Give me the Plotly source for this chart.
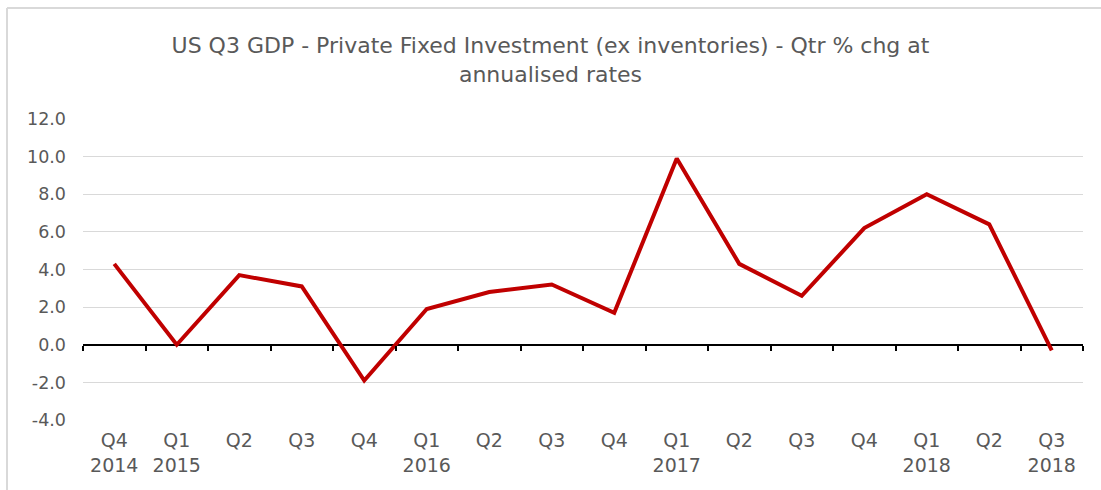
import plotly.graph_objects as go

quarters = ["Q4", "Q1", "Q2", "Q3", "Q4", "Q1", "Q2", "Q3", "Q4", "Q1", "Q2", "Q3", "Q4", "Q1", "Q2", "Q3"]
years = ["2014", "2015", "", "", "", "2016", "", "", "", "2017", "", "", "", "2018", "", "2018"]
values = [4.3, 0.0, 3.7, 3.1, -1.9, 1.9, 2.8, 3.2, 1.7, 9.9, 4.3, 2.6, 6.2, 8.0, 6.4, -0.3]
y_ticks = [-4, -2, 0, 2, 4, 6, 8, 10, 12]
title_text = "US Q3 GDP - Private Fixed Investment (ex inventories) - Qtr % chg at<br>annualised rates"

W, H = 1101, 490
ML, MR, MT, MB = 83, 18, 119, 70
PW, PH = W - ML - MR, H - MT - MB

labels = [q + ("<br>" + y if y else "") for q, y in zip(quarters, years)]
xs = list(range(len(values)))
FONT = "DejaVu Sans"
TXT = "#595959"

fig = go.Figure()
fig.add_trace(go.Scatter(x=xs, y=values, mode="lines",
                         line=dict(color="#C00000", width=4), showlegend=False,
                         hoverinfo="skip"))
# invisible trace on xaxis2 for boundary ticks
fig.add_trace(go.Scatter(x=[-0.5, len(values) - 0.5], y=[0, 0], mode="lines",
                         line=dict(width=0), xaxis="x2", showlegend=False,
                         hoverinfo="skip"))

def px_x(p):
    return (p - ML) / PW

def px_y(p):
    return (H - MB - p) / PH

fig.update_layout(
    width=W, height=H,
    margin=dict(l=ML, r=MR, t=MT, b=MB),
    paper_bgcolor="white", plot_bgcolor="white",
    font=dict(family=FONT, color=TXT),
    title=dict(text=title_text, x=0.5, xanchor="center", xref="container",
               y=1 - 53 / H, yanchor="top", yref="container",
               font=dict(size=22, color=TXT, family=FONT)),
    xaxis=dict(range=[-0.5, len(values) - 0.5], tickmode="array", tickvals=xs,
               ticktext=labels, showgrid=False, showline=False, zeroline=False,
               ticks="", tickfont=dict(size=19, color=TXT), ticklabelstandoff=7),
    xaxis2=dict(range=[-0.5, len(values) - 0.5], overlaying="x", anchor="free",
                position=(0 - y_ticks[0]) / (y_ticks[-1] - y_ticks[0]), side="bottom",
                tickmode="array", tickvals=[i - 0.5 for i in range(len(values) + 1)],
                showticklabels=False, ticks="outside", ticklen=5, tickwidth=1.5,
                tickcolor="black", showline=False, showgrid=False, zeroline=False),
    yaxis=dict(range=[y_ticks[0], y_ticks[-1]], tickmode="array", tickvals=y_ticks,
               ticktext=[f"{v:.1f}" for v in y_ticks], showgrid=True,
               gridcolor="#d9d9d9", gridwidth=1, zeroline=True, zerolinecolor="black",
               zerolinewidth=1.5, showline=False, ticks="",
               tickfont=dict(size=17.5, color=TXT), ticklabelstandoff=16),
    shapes=[
        dict(type="line", xref="paper", yref="paper", x0=px_x(7), x1=px_x(W),
             y0=px_y(8), y1=px_y(8), line=dict(color="#d9d9d9", width=2)),
        dict(type="line", xref="paper", yref="paper", x0=px_x(7), x1=px_x(7),
             y0=px_y(8), y1=px_y(H), line=dict(color="#d9d9d9", width=2)),
    ],
)

fig.write_html("out.html")
